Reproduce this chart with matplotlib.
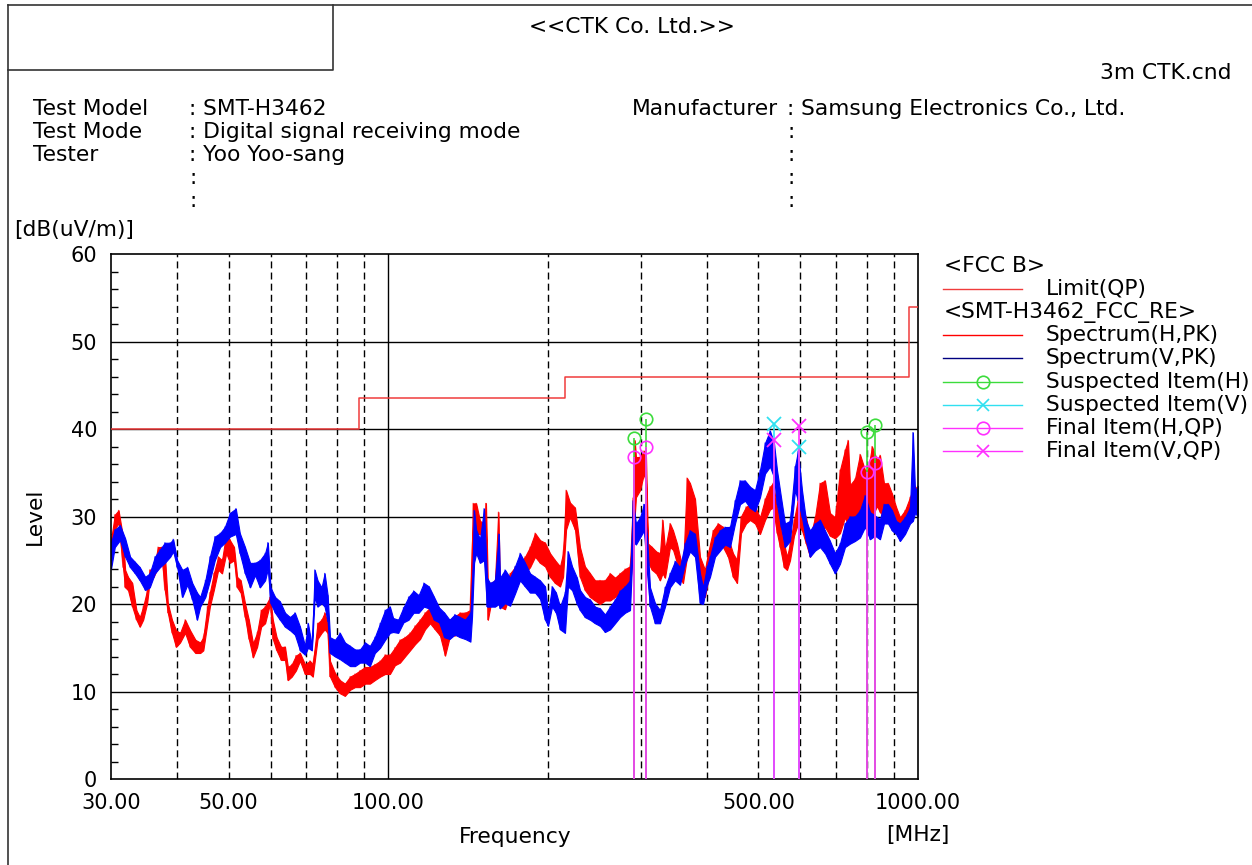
import numpy as np
import matplotlib
matplotlib.use('Agg')
import matplotlib.pyplot as plt

plt.rcParams['font.family'] = ['DejaVu Sans']

# FCC class B limit (QP), steps
limit_f = [30, 88, 216, 960, 1000]
limit_lv = [40.0, 43.5, 46.0, 54.0, 54.0]

# Spectrum (H,PK): frequency [MHz], lower / upper edge of the noisy trace [dB(uV/m)]
h_freq = [30.0, 30.5, 31.0, 31.6, 31.9, 32.3, 32.9, 33.5, 34.0, 34.5,
          35.1, 35.5, 36.1, 36.8, 37.4, 37.9, 38.4, 39.1, 39.8, 40.5,
          41.4, 42.3, 43.3, 44.2, 44.8, 45.6, 46.1, 46.9, 47.8, 48.6,
          49.5, 50.3, 51.2, 51.9, 52.7, 53.7, 54.6, 55.6, 56.6, 57.6,
          58.6, 59.9, 60.6, 61.6, 62.8, 63.9, 64.7, 65.8, 67.0, 68.2,
          69.7, 71.2, 72.1, 73.6, 74.9, 75.9, 76.9, 77.7, 79.4, 81.1,
          82.9, 84.8, 86.6, 88.5, 90.5, 92.4, 94.4, 96.6, 98.7, 100.8,
          103.0, 105.3, 107.6, 110.0, 112.4, 114.9, 117.4, 120.0, 122.6, 125.3,
          128.1, 130.9, 133.8, 136.7, 139.8, 142.8, 144.7, 146.6, 149.1, 151.7,
          153.0, 154.3, 156.4, 159.1, 161.5, 162.6, 166.2, 169.9, 173.6, 177.4,
          181.3, 185.3, 189.4, 193.5, 197.8, 202.1, 206.6, 211.1, 213.9, 216.7,
          220.4, 225.3, 230.2, 235.2, 240.5, 245.7, 251.1, 256.6, 262.3, 268.1,
          273.9, 280.0, 286.1, 289.8, 292.0, 293.6, 298.8, 304.0, 306.7, 309.4,
          314.8, 320.6, 325.9, 329.5, 333.1, 340.4, 344.9, 350.9, 355.5, 360.2,
          366.5, 371.3, 379.5, 387.8, 396.3, 401.5, 410.4, 419.4, 428.6, 438.0,
          447.6, 455.5, 463.4, 473.6, 481.9, 492.5, 503.3, 514.4, 525.6, 532.5,
          541.9, 549.0, 558.6, 566.0, 573.4, 583.4, 593.7, 604.1, 614.8, 625.4,
          639.2, 653.2, 667.5, 682.2, 697.1, 712.5, 728.1, 737.6, 744.1, 760.4,
          777.2, 794.2, 804.6, 818.8, 836.7, 847.7, 862.6, 877.8, 893.2, 909.0,
          924.7, 945.1, 965.8, 983.2, 1000.0]
h_lo = [25.8, 28.5, 29.3, 24.2, 21.9, 21.6, 19.7, 18.2, 17.4, 18.2,
        20.1, 22.7, 23.1, 24.2, 25.4, 21.6, 19.0, 16.7, 15.1, 15.6,
        16.7, 15.1, 14.4, 14.4, 14.7, 17.8, 19.7, 21.6, 23.9, 23.5,
        25.8, 24.7, 25.0, 21.9, 21.3, 18.5, 16.0, 13.9, 15.1, 17.4,
        17.8, 20.1, 16.0, 14.7, 13.6, 13.6, 11.3, 11.7, 12.4, 13.5,
        12.0, 12.0, 11.7, 16.0, 16.7, 17.1, 16.7, 11.7, 10.5, 9.8,
        9.5, 10.2, 10.5, 10.5, 10.9, 10.9, 11.3, 11.7, 12.0, 12.0,
        13.0, 13.3, 14.0, 14.7, 15.4, 16.0, 17.1, 17.8, 17.1, 16.4,
        14.1, 16.4, 16.4, 16.8, 17.9, 18.2, 29.0, 28.0, 28.0, 27.6,
        28.0, 18.2, 20.1, 20.4, 20.5, 19.7, 19.4, 21.2, 21.9, 22.7,
        23.5, 24.2, 25.4, 24.7, 24.3, 23.1, 22.4, 22.0, 23.1, 28.5,
        29.9, 28.5, 23.1, 21.6, 20.8, 20.4, 20.0, 20.4, 20.4, 20.8,
        21.2, 21.6, 21.6, 26.4, 30.0, 32.2, 33.0, 34.9, 33.8, 24.7,
        23.9, 23.5, 22.7, 23.5, 23.0, 26.5, 26.2, 24.7, 23.1, 22.4,
        25.4, 26.5, 25.8, 22.0, 20.8, 22.7, 26.1, 26.8, 26.5, 25.4,
        23.1, 22.4, 28.1, 29.2, 29.6, 29.2, 28.0, 29.6, 30.8, 31.0,
        28.1, 26.5, 24.2, 23.9, 25.0, 27.8, 29.2, 28.4, 26.9, 25.4,
        27.2, 28.0, 28.8, 27.8, 27.5, 28.1, 29.9, 29.0, 29.0, 30.1,
        30.5, 31.2, 30.5, 29.9, 31.2, 30.5, 29.9, 30.8, 29.6, 28.5,
        27.6, 28.8, 29.9, 31.4, 30.5]
h_hi = [27.3, 30.2, 30.7, 27.7, 23.9, 23.1, 22.4, 19.3, 18.5, 19.7,
        21.6, 23.9, 24.2, 26.5, 26.5, 25.8, 20.1, 18.2, 17.0, 16.7,
        18.2, 17.0, 15.9, 15.6, 16.2, 19.7, 21.3, 23.5, 25.4, 25.0,
        28.1, 27.3, 26.5, 23.1, 22.7, 20.1, 18.2, 15.5, 16.7, 19.3,
        19.7, 20.8, 18.2, 16.2, 15.1, 15.1, 12.8, 13.1, 14.1, 14.4,
        13.1, 13.5, 13.1, 17.8, 18.2, 19.0, 17.8, 13.5, 12.1, 11.3,
        10.9, 11.7, 12.0, 12.4, 12.8, 12.8, 13.1, 13.5, 14.2, 14.2,
        15.0, 15.9, 16.2, 16.7, 17.5, 18.2, 19.0, 19.6, 19.0, 18.2,
        17.0, 18.2, 18.6, 19.0, 19.0, 19.3, 31.5, 31.5, 29.5, 29.2,
        31.5, 21.9, 22.4, 22.7, 30.5, 22.0, 22.0, 23.5, 24.2, 24.7,
        25.4, 26.5, 28.1, 27.3, 27.0, 25.8, 25.0, 24.3, 25.8, 33.0,
        31.6, 31.0, 26.5, 24.3, 23.5, 22.7, 22.7, 22.7, 23.5, 23.0,
        23.5, 24.0, 24.3, 32.1, 38.7, 36.8, 36.8, 37.5, 36.8, 26.9,
        26.5, 26.0, 25.8, 29.6, 26.2, 29.2, 28.4, 26.9, 25.4, 24.0,
        34.4, 33.8, 32.0, 25.4, 23.9, 25.8, 28.4, 29.2, 28.8, 27.6,
        25.8, 25.0, 30.0, 31.1, 31.4, 31.1, 29.9, 32.0, 33.4, 33.8,
        31.1, 29.2, 26.9, 25.4, 26.9, 29.6, 32.0, 31.0, 29.9, 27.6,
        29.9, 33.8, 34.1, 30.4, 29.9, 35.3, 37.6, 38.7, 33.6, 34.3,
        37.1, 35.3, 35.3, 38.0, 36.5, 37.0, 33.8, 33.8, 32.6, 31.1,
        29.9, 30.7, 32.2, 33.6, 33.0]

# Spectrum (V,PK)
v_freq = [30.0, 30.5, 31.2, 31.9, 32.6, 33.3, 34.0, 34.8, 35.5, 36.3,
          37.1, 37.9, 38.8, 39.3, 40.0, 40.9, 41.8, 42.7, 43.6, 44.2,
          45.2, 46.1, 47.1, 48.2, 49.2, 50.3, 51.6, 52.5, 53.7, 54.9,
          56.1, 57.3, 58.6, 59.3, 60.0, 61.2, 62.5, 63.9, 65.3, 66.7,
          68.2, 69.7, 70.6, 71.8, 72.7, 73.6, 74.9, 75.9, 76.9, 77.7,
          79.4, 81.1, 82.9, 84.8, 86.6, 88.5, 90.5, 92.4, 94.4, 96.6,
          98.7, 100.8, 102.2, 104.5, 106.9, 109.3, 111.7, 114.2, 116.8, 119.4,
          122.1, 124.8, 127.7, 130.6, 133.6, 136.7, 139.8, 143.0, 144.0, 145.3,
          146.6, 149.1, 151.7, 153.7, 155.7, 159.1, 161.8, 162.6, 166.2, 169.9,
          173.6, 177.4, 181.3, 185.3, 189.4, 193.5, 197.8, 200.4, 203.9, 207.4,
          211.1, 215.7, 218.5, 222.4, 227.2, 230.2, 235.2, 240.5, 245.7, 251.1,
          256.6, 262.3, 268.1, 273.9, 280.0, 286.1, 289.8, 293.6, 298.8, 304.0,
          308.1, 312.1, 318.9, 325.9, 333.1, 340.4, 347.9, 355.5, 363.3, 371.3,
          379.5, 387.8, 392.9, 399.8, 405.0, 413.9, 423.0, 432.3, 441.8, 451.5,
          461.4, 471.6, 481.9, 492.5, 503.3, 514.4, 525.6, 534.8, 541.9, 551.4,
          561.0, 573.4, 585.9, 593.7, 604.1, 614.8, 625.4, 639.2, 653.2, 667.5,
          682.2, 697.1, 712.5, 728.1, 744.1, 760.4, 777.2, 794.2, 811.7, 829.5,
          847.7, 862.6, 877.8, 893.2, 909.0, 924.7, 945.1, 965.8, 978.0, 987.0,
          1000.0]
v_lo = [24.0, 26.5, 27.3, 25.4, 24.2, 23.5, 22.7, 21.6, 21.9, 23.5,
        24.2, 24.7, 25.4, 26.0, 24.2, 20.8, 22.2, 20.5, 18.2, 19.7,
        20.8, 22.7, 25.0, 26.5, 27.0, 27.7, 28.0, 25.8, 23.5, 21.9,
        23.3, 21.9, 22.7, 24.0, 20.1, 19.0, 18.2, 17.4, 17.0, 16.5,
        14.7, 14.2, 15.0, 14.7, 20.8, 19.7, 20.1, 19.7, 18.0, 14.4,
        14.0, 13.7, 13.3, 12.9, 12.9, 13.3, 13.3, 12.9, 14.4, 15.0,
        15.9, 16.7, 16.8, 16.7, 17.9, 18.2, 19.0, 19.0, 19.7, 19.5,
        18.2, 17.9, 16.2, 16.0, 16.5, 16.2, 16.0, 15.7, 18.5, 24.7,
        25.8, 24.7, 25.0, 19.7, 19.7, 19.7, 20.0, 19.5, 20.1, 19.8,
        21.2, 22.7, 22.0, 21.3, 21.3, 20.6, 18.2, 17.5, 19.7, 19.0,
        17.1, 16.7, 22.0, 21.6, 20.0, 19.3, 18.5, 18.2, 17.8, 17.5,
        16.8, 17.1, 17.8, 18.5, 19.0, 19.3, 27.2, 26.8, 27.6, 28.4,
        23.5, 19.7, 17.8, 17.8, 19.7, 21.9, 22.7, 22.2, 24.6, 26.0,
        25.4, 20.1, 20.0, 22.2, 23.1, 25.4, 26.1, 26.8, 26.5, 29.2,
        31.4, 31.8, 31.0, 30.6, 32.2, 34.9, 35.7, 34.5, 31.4, 28.8,
        26.5, 27.2, 33.0, 31.8, 29.9, 27.2, 25.4, 26.1, 26.5, 25.8,
        24.6, 23.5, 24.6, 26.5, 26.9, 27.2, 27.6, 28.8, 27.4, 27.8,
        27.4, 29.2, 29.2, 28.4, 28.0, 27.2, 28.0, 29.2, 29.5, 30.4,
        30.0]
v_hi = [27.0, 28.5, 29.0, 27.5, 25.4, 24.8, 24.2, 23.1, 23.5, 25.4,
        26.2, 27.0, 27.0, 27.4, 25.0, 23.9, 24.2, 22.4, 21.3, 20.8,
        22.7, 25.4, 27.7, 28.1, 28.8, 30.4, 30.9, 28.1, 26.5, 24.7,
        24.7, 25.0, 25.8, 27.0, 21.9, 20.8, 20.3, 19.0, 18.5, 19.0,
        17.4, 15.2, 17.8, 15.2, 23.9, 22.7, 21.9, 23.5, 21.0, 16.2,
        15.9, 16.7, 15.6, 15.2, 14.8, 14.8, 15.6, 15.2, 16.2, 17.8,
        19.3, 19.7, 18.4, 18.2, 19.6, 20.8, 21.5, 21.0, 22.4, 22.0,
        20.8, 19.6, 19.0, 18.2, 18.8, 18.5, 18.2, 19.0, 21.9, 30.7,
        28.5, 27.4, 30.9, 23.0, 22.4, 22.7, 28.0, 23.0, 23.9, 23.0,
        24.3, 25.8, 24.7, 23.5, 23.1, 22.7, 22.0, 19.0, 22.0, 21.3,
        19.7, 21.3, 26.0, 24.3, 23.0, 21.6, 20.8, 20.5, 19.7, 19.5,
        18.8, 19.7, 20.5, 21.5, 22.0, 22.7, 31.8, 29.2, 29.9, 31.4,
        27.6, 21.9, 20.1, 19.3, 21.9, 23.5, 24.9, 24.2, 26.9, 28.4,
        28.0, 23.5, 21.9, 24.3, 25.4, 27.6, 28.4, 28.8, 28.8, 31.8,
        34.1, 34.1, 33.4, 33.0, 35.3, 38.4, 39.8, 38.4, 35.3, 32.2,
        29.2, 29.5, 35.7, 37.5, 33.0, 29.5, 28.4, 29.2, 29.6, 28.4,
        27.2, 25.8, 26.9, 29.2, 30.0, 30.0, 30.7, 32.4, 30.5, 30.1,
        29.7, 31.4, 31.4, 30.7, 29.5, 29.2, 29.9, 31.0, 39.6, 33.0,
        33.5]

# Suspected items (peak) and final items (QP)
sus_h_f = [291.5, 306.7, 800.0, 829.0]
sus_h_lv = [39.0, 41.2, 39.7, 40.5]
sus_v_f = [535.0, 597.0]
sus_v_lv = [40.6, 38.0]
fin_h_f = [291.5, 306.7, 800.0, 829.0]
fin_h_lv = [36.8, 38.0, 35.1, 36.1]
fin_v_f = [535.0, 597.0]
fin_v_lv = [38.8, 40.4]

x_ticks = [30, 50, 100, 500, 1000]
dashed_f = [40, 50, 60, 70, 80, 90, 200, 300, 400, 500, 600, 700, 800, 900]

c_red = '#ff0000'
c_blue = '#0000ff'
c_lim = '#f03c3c'
c_green = '#3cdc3c'
c_cyan = '#30e0f0'
c_mag = '#ff30ff'

W, H = 1252, 865
fig = plt.figure(figsize=(W / 100, H / 100), dpi=100)

# page frame and header in pixel coordinates
bg = fig.add_axes([0, 0, 1, 1], zorder=0)
bg.set_xlim(0, W)
bg.set_ylim(H, 0)
bg.axis('off')
bg.plot([8, W], [5, 5], color='#333333', lw=1.2)
bg.plot([8, 8], [5, H], color='#333333', lw=1.2)
bg.plot([8, 333, 333], [70, 70, 5], color='#333333', lw=1.2)

fs = 15.7
bg.text(632, 27, '<<CTK Co. Ltd.>>', ha='center', va='center', fontsize=fs)
bg.text(1231, 73, '3m CTK.cnd', ha='right', va='center', fontsize=fs)
left_rows = [('Test Model', ': SMT-H3462'), ('Test Mode', ': Digital signal receiving mode'),
             ('Tester', ': Yoo Yoo-sang'), ('', ':'), ('', ':')]
right_rows = [('Manufacturer', ': Samsung Electronics Co., Ltd.'), ('', ':'), ('', ':'),
              ('', ':'), ('', ':')]
for i, (a, b) in enumerate(left_rows):
    yy = 109 + i * 23
    bg.text(33, yy, a, ha='left', va='center', fontsize=fs)
    bg.text(189, yy, b, ha='left', va='center', fontsize=fs)
for i, (a, b) in enumerate(right_rows):
    yy = 109 + i * 23
    bg.text(632, yy, a, ha='left', va='center', fontsize=fs)
    bg.text(787, yy, b, ha='left', va='center', fontsize=fs)
bg.text(14, 230, '[dB(uV/m)]', ha='left', va='center', fontsize=fs)
bg.text(35, 516, 'Level', ha='center', va='center', rotation=90, fontsize=fs)
bg.text(515, 837, 'Frequency', ha='center', va='center', fontsize=fs)
bg.text(918, 835, '[MHz]', ha='center', va='center', fontsize=fs)

# legend block
leg = [('<FCC B>', None, None),
       ('Limit(QP)', c_lim, None),
       ('<SMT-H3462_FCC_RE>', None, None),
       ('Spectrum(H,PK)', c_red, None),
       ('Spectrum(V,PK)', '#000080', None),
       ('Suspected Item(H)', c_green, 'o'),
       ('Suspected Item(V)', c_cyan, 'x'),
       ('Final Item(H,QP)', c_mag, 'o'),
       ('Final Item(V,QP)', c_mag, 'x')]
for i, (lab, col, mk) in enumerate(leg):
    yy = 266 + i * 23.1
    if col is None:
        bg.text(944, yy, lab, ha='left', va='center', fontsize=fs)
        continue
    bg.plot([943, 1022], [yy, yy], color=col, lw=1)
    if mk:
        bg.plot([983], [yy], marker=mk, ms=9, mfc='none', mec=col, mew=1.2)
    bg.text(1046, yy, lab, ha='left', va='center', fontsize=fs)

# main plot
ax = fig.add_axes([111 / W, 1 - 779 / H, (918 - 111) / W, (779 - 254) / H], zorder=1)
ax.set_xscale('log')
ax.set_xlim(30, 1000)
ax.set_ylim(0, 60)

for f in dashed_f:
    ax.axvline(f, color='black', lw=1, ls=(0, (5, 3)), zorder=1)
ax.axvline(100, color='black', lw=1, zorder=1)
for lv in range(10, 60, 10):
    ax.axhline(lv, color='black', lw=1, zorder=1)

ax.plot(limit_f, limit_lv, drawstyle='steps-post', color=c_lim, lw=1.1, zorder=3)

# noisy traces: solid band between lower and upper edge, plus a stroke per reading
hx = np.repeat(h_freq, 2)
hy = np.column_stack([h_lo, h_hi]).ravel()
vx = np.repeat(v_freq, 2)
vy = np.column_stack([v_lo, v_hi]).ravel()
ax.fill_between(h_freq, h_lo, h_hi, color=c_red, lw=0.8, zorder=2)
ax.plot(hx, hy, color=c_red, lw=0.9, alpha=0.7, zorder=2)
ax.fill_between(v_freq, v_lo, v_hi, color=c_blue, lw=0.8, zorder=2.1)
ax.plot(vx, vy, color=c_blue, lw=0.9, alpha=0.7, zorder=2.1)

# stems + markers
ax.vlines(sus_h_f, 0, sus_h_lv, color=c_green, lw=1.2, zorder=4)
ax.vlines(sus_v_f, 0, sus_v_lv, color=c_cyan, lw=1.2, zorder=4)
ax.vlines(fin_h_f, 0, fin_h_lv, color=c_mag, lw=1.2, zorder=5)
ax.vlines(fin_v_f, 0, fin_v_lv, color=c_mag, lw=1.2, zorder=5)
ax.plot(sus_h_f, sus_h_lv, 'o', ms=9, mfc='none', mec=c_green, mew=1.2, zorder=6)
ax.plot(sus_v_f, sus_v_lv, 'x', ms=10, mec=c_cyan, mew=1.3, zorder=6)
ax.plot(fin_h_f, fin_h_lv, 'o', ms=9, mfc='none', mec=c_mag, mew=1.2, zorder=6)
ax.plot(fin_v_f, fin_v_lv, 'x', ms=10, mec=c_mag, mew=1.3, zorder=6)

ax.set_xticks(x_ticks)
ax.set_xticklabels(['%.2f' % t for t in x_ticks])
ax.xaxis.set_minor_locator(matplotlib.ticker.NullLocator())
ax.set_yticks(range(0, 61, 10))
ax.set_yticks(range(0, 61, 2), minor=True)
ax.tick_params(axis='both', which='major', length=0, labelsize=15, pad=10)
ax.tick_params(axis='y', which='minor', direction='in', length=5, width=1)
for s in ax.spines.values():
    s.set_linewidth(1.2)

fig.savefig('out.png', dpi=100)
